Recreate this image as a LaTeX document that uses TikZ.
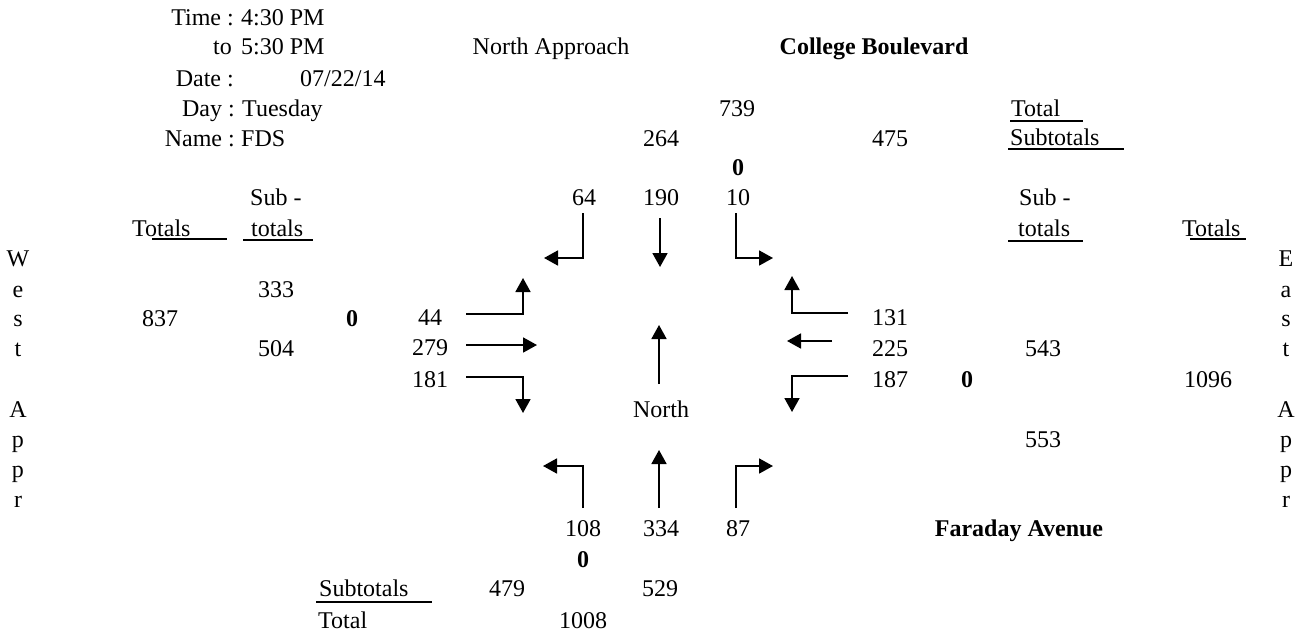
\documentclass[tikz,border=0pt]{standalone}
\usepackage{fontspec}
\setmainfont{Liberation Serif}
\usetikzlibrary{arrows.meta}
\newcommand{\cntsize}{\fontsize{24}{28}\selectfont}
\tikzstyle{lbl}=[inner sep=0pt,anchor=base]
\tikzstyle{lblw}=[inner sep=0pt,anchor=base west]
\tikzstyle{lble}=[inner sep=0pt,anchor=base east]
\tikzstyle{zero}=[lbl,font=\cntsize\bfseries]
\tikzstyle{mv}=[line width=1.8pt,-{Triangle[length=14pt,width=15pt]}]
\tikzstyle{uline}=[line width=2pt]

\begin{document}
\begin{tikzpicture}[x=1pt,y=-1pt,font=\cntsize]
    \useasboundingbox (0,0) rectangle (1305,634);
    % header block
    \node[lble] (time) at (234,26)  {Time :};
    \node[lblw] (tfrom) at (241,26) {4:30 PM};
    \node[lble] (to) at (232,55)    {to};
    \node[lblw] (tto) at (241,55)   {5:30 PM};
    \node[lble] (date) at (234,86)  {Date :};
    \node[lblw] (dval) at (300,86)  {07/22/14};
    \node[lble] (day) at (235,116)  {Day :};
    \node[lblw] (dayv) at (242,116) {Tuesday};
    \node[lble] (name) at (235,146) {Name :};
    \node[lblw] (namev) at (241,146) {FDS};

    % street names
    \node[lbl] (napp) at (551,55) {North Approach};
    \node[lbl,font=\cntsize\bfseries] (cb) at (874,55) {College Boulevard};
    \node[lbl,font=\cntsize\bfseries] (fa) at (1019,536) {Faraday Avenue};

    % north approach
    \node[lbl] (ntot) at (737,116) {739};
    \node[lbl] (nin) at (661,146)  {264};
    \node[lbl] (nout) at (890,146) {475};
    \node[zero] (nz) at (738,175)  {0};
    \node[lbl] (nl) at (584,205)   {64};
    \node[lbl] (nt) at (661,205)   {190};
    \node[lbl] (nr) at (738,205)   {10};

    % west approach
    \node[lblw] (wsub) at (250,205) {Sub -};
    \node[lblw] (wtot) at (132,236) {Totals};
    \node[lblw] (wsubt) at (251,236) {totals};
    \node[lbl] (win) at (276,297)  {333};
    \node[lbl] (wsum) at (160,326) {837};
    \node[zero] (wz) at (352,326)  {0};
    \node[lbl] (wout) at (276,356) {504};
    \node[lbl] (wl) at (430,325)   {44};
    \node[lbl] (wt) at (430,355)   {279};
    \node[lbl] (wr) at (430,387)   {181};

    % east approach
    \node[lblw] (etl) at (1011,116) {Total};
    \node[lblw] (esl) at (1010,145) {Subtotals};
    \node[lblw] (esub) at (1019,205) {Sub -};
    \node[lblw] (esubt) at (1018,236) {totals};
    \node[lblw] (etot) at (1182,236) {Totals};
    \node[lbl] (er) at (890,325)   {131};
    \node[lbl] (et) at (890,356)   {225};
    \node[lbl] (el) at (890,387)   {187};
    \node[lbl] (ein) at (1043,356) {543};
    \node[zero] (ez) at (967,387)  {0};
    \node[lbl] (esum) at (1208,387) {1096};
    \node[lbl] (eout) at (1043,447) {553};

    % south approach
    \node[lbl] (north) at (661,417) {North};
    \node[lbl] (sl) at (583,536)   {108};
    \node[lbl] (st) at (661,536)   {334};
    \node[lbl] (sr) at (738,536)   {87};
    \node[zero] (sz) at (583,567)  {0};
    \node[lblw] (ssl) at (319,596) {Subtotals};
    \node[lbl] (sin) at (507,596)  {479};
    \node[lbl] (sout) at (660,596) {529};
    \node[lblw] (stl) at (318,628) {Total};
    \node[lbl] (ssum) at (583,628) {1008};

    % side titles
    \foreach \c/\y [count=\i] in {W/266,e/297,s/326,t/356,A/417,p/447,p/477,r/507}
    \node[lbl] (w\i) at (18,\y) {\c};
    \foreach \c/\y [count=\i] in {E/266,a/297,s/326,t/356,A/417,p/447,p/477,r/507}
    \node[lbl] (e\i) at (1286,\y) {\c};

    % underlines
    \draw[uline] (152,239) -- (227,239);
    \draw[uline] (243,240) -- (313,240);
    \draw[uline] (1010,121) -- (1083,121);
    \draw[uline] (1008,149) -- (1124,149);
    \draw[uline] (1008,241) -- (1083,241);
    \draw[uline] (1190,239) -- (1246,239);
    \draw[uline] (316,602) -- (432,602);

    % through movements
    \foreach \xa/\ya/\xb/\yb in {660/218/660/267,466/345/537/345,832/341/787/341,659/508/659/450,659/384/659/325}
    \draw[mv] (\xa,\ya) -- (\xb,\yb);
    % turns, vertical leg first
    \foreach \xa/\ya/\xb/\yb in {583/213/544/258,736/213/773/258,583/508/543/466,736/508/773/466}
    \draw[mv] (\xa,\ya) |- (\xb,\yb);
    % turns, horizontal leg first
    \foreach \xa/\ya/\xb/\yb in {466/314/523/278,466/377/523/413,848/313/792/276,848/376/792/412}
    \draw[mv] (\xa,\ya) -| (\xb,\yb);
\end{tikzpicture}
\end{document}
